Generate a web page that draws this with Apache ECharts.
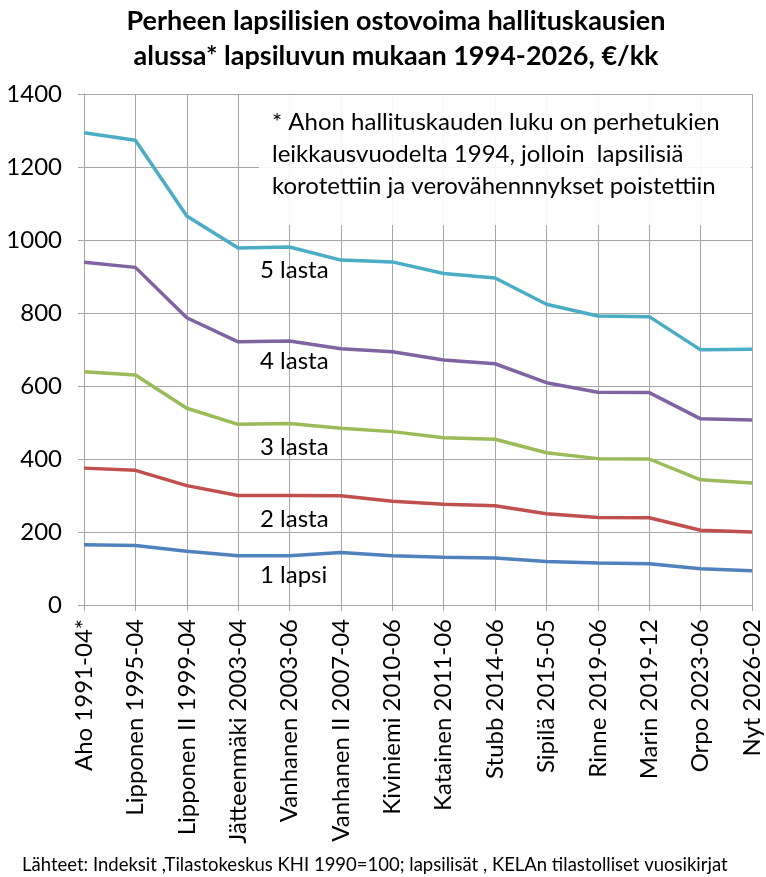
<!DOCTYPE html>
<html>
<head>
<meta charset="utf-8">
<script src="https://cdn.jsdelivr.net/npm/echarts@6/dist/echarts.min.js"></script>
<style>
  html, body { margin: 0; padding: 0; background: #fff; }
  #chart { width: 766px; height: 877px; }
</style>
</head>
<body>
<div id="chart"></div>
<script>
const categories = [
  'Aho 1991-04*', 'Lipponen 1995-04', 'Lipponen II 1999-04', 'Jätteenmäki 2003-04',
  'Vanhanen 2003-06', 'Vanhanen II 2007-04', 'Kiviniemi 2010-06', 'Katainen 2011-06',
  'Stubb 2014-06', 'Sipilä 2015-05', 'Rinne 2019-06', 'Marin 2019-12',
  'Orpo 2023-06', 'Nyt 2026-02'
]
const lapsi1 = [165, 163, 147, 135, 135, 144, 135, 131, 129, 119, 115, 113, 99, 94]
const lasta2 = [375, 369, 327, 300, 300, 299, 284, 276, 272, 250, 240, 239, 205, 200]
const lasta3 = [639, 630, 539, 495, 497, 484, 475, 458, 454, 417, 401, 400, 343, 334]
const lasta4 = [939, 925, 787, 721, 723, 702, 694, 671, 661, 609, 583, 582, 510, 507]
const lasta5 = [1294, 1273, 1066, 978, 981, 945, 940, 908, 896, 824, 792, 790, 699, 701]
const yTicks = [0, 1400, 200]

const FONT = 'Lato, "Noto Sans", sans-serif'
const gridColor = '#a6a6a6'

const chart = echarts.init(document.getElementById('chart'))

const lineSeries = (name, data, color) => ({
  name,
  type: 'line',
  data,
  symbol: 'none',
  lineStyle: { color, width: 3.5 },
  itemStyle: { color },
  z: 3
})

// series name labels, placed under each line like in the original
const seriesLabel = (text, y) => ({
  type: 'text', x: 260, y, z: 4,
  style: { text, font: '24px ' + FONT, fill: '#000', verticalAlign: 'middle' }
})

const option = {
  backgroundColor: '#fff',
  animation: false,
  textStyle: { fontFamily: FONT },
  grid: { left: 84, right: 14, top: 94, bottom: 272 },
  xAxis: {
    type: 'category',
    boundaryGap: false,
    data: categories,
    axisLine: { lineStyle: { color: gridColor, width: 1 } },
    axisTick: { show: true, length: 6, lineStyle: { color: gridColor } },
    splitLine: { show: true, lineStyle: { color: gridColor, width: 1 } },
    axisLabel: {
      rotate: 90,
      interval: 0,
      margin: 14,
      color: '#000',
      fontSize: 24,
      fontFamily: FONT
    }
  },
  yAxis: {
    type: 'value',
    min: yTicks[0],
    max: yTicks[1],
    interval: yTicks[2],
    axisLine: { show: true, lineStyle: { color: gridColor, width: 1 } },
    axisTick: { show: true, length: 6, lineStyle: { color: gridColor } },
    splitLine: { show: true, lineStyle: { color: gridColor, width: 1 } },
    axisLabel: {
      color: '#000', fontSize: 24, margin: 22, fontFamily: FONT,
      formatter: v => String(v)
    }
  },
  series: [
    lineSeries('1 lapsi', lapsi1, '#4f81bd'),
    lineSeries('2 lasta', lasta2, '#c0504d'),
    lineSeries('3 lasta', lasta3, '#9bbb59'),
    lineSeries('4 lasta', lasta4, '#8064a2'),
    lineSeries('5 lasta', lasta5, '#4bacc6')
  ],
  graphic: [
    {
      type: 'text', x: 396, y: 39,
      style: {
        text: 'Perheen lapsilisien ostovoima hallituskausien\nalussa* lapsiluvun mukaan 1994-2026, €/kk',
        font: 'bold 27px ' + FONT, fill: '#000', align: 'center', verticalAlign: 'middle', lineHeight: 35
      }
    },
    {
      type: 'rect', shape: { x: 259, y: 95, width: 492, height: 130 },
      style: { fill: 'rgba(255,255,255,0.9)' }, z: 2
    },
    {
      type: 'text', x: 272, y: 154, z: 4,
      style: {
        text: '* Ahon hallituskauden luku on perhetukien\nleikkausvuodelta 1994, jolloin  lapsilisiä\nkorotettiin ja verovähennnykset poistettiin',
        font: '24px ' + FONT, fill: '#000', lineHeight: 32, verticalAlign: 'middle'
      }
    },
    seriesLabel('5 lasta', 270),
    seriesLabel('4 lasta', 361),
    seriesLabel('3 lasta', 447),
    seriesLabel('2 lasta', 519),
    seriesLabel('1 lapsi', 575),
    {
      type: 'text', x: 22, y: 865,
      style: {
        text: 'Lähteet: Indeksit ,Tilastokeskus KHI 1990=100; lapsilisät , KELAn tilastolliset vuosikirjat',
        font: '18.5px ' + FONT, fill: '#000', verticalAlign: 'middle'
      }
    }
  ]
}

chart.setOption(option)
window.addEventListener('resize', () => chart.resize())
</script>
</body>
</html>
